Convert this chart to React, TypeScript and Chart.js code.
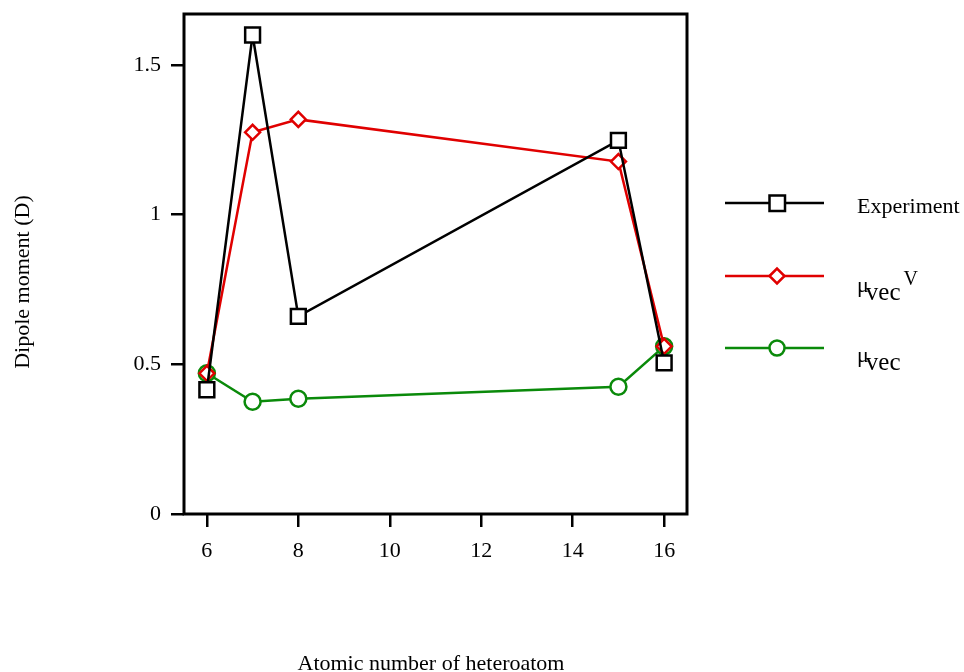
import React, { useEffect, useRef } from "react";
import { Chart, registerables } from "chart.js";

Chart.register(...registerables);

const atomicNumbers = [6, 7, 8, 15, 16];
const experiment = [0.415, 1.6, 0.66, 1.248, 0.505];
const muVecV = [0.47, 1.275, 1.318, 1.177, 0.56];
const muVec = [0.47, 0.375, 0.385, 0.425, 0.56];

const xTicks = [6, 8, 10, 12, 14, 16];
const yTicks = [0, 0.5, 1, 1.5];
const yTickLabels = ["0", "0.5", "1", "1.5"];

const FONT = '"Liberation Serif", "Times New Roman", serif';
const RED = "#e00000";
const GREEN = "#0a8a0a";

const boxPlugin = {
  id: "box",
  afterDraw(chart: any) {
    const { ctx, chartArea } = chart;
    ctx.save();
    ctx.strokeStyle = "#000";
    ctx.lineWidth = 3;
    ctx.strokeRect(chartArea.left, chartArea.top, chartArea.right - chartArea.left, chartArea.bottom - chartArea.top);
    ctx.restore();
  },
};

export default function App() {
  const ref = useRef<HTMLCanvasElement>(null);

  useEffect(() => {
    if (!ref.current) return;
    const pts = (ys: number[]) => atomicNumbers.map((x, i) => ({ x, y: ys[i] }));
    const chart = new Chart(ref.current, {
      type: "line",
      data: {
        datasets: [
          {
            label: "Experiment",
            data: pts(experiment),
            borderColor: "#000",
            borderWidth: 2.5,
            pointStyle: "rect",
            pointRadius: 10.5,
            pointBorderWidth: 2.5,
            pointBackgroundColor: "#fff",
            pointBorderColor: "#000",
          },
          {
            label: "μvecV",
            data: pts(muVecV),
            borderColor: RED,
            borderWidth: 2.5,
            pointStyle: "rectRot",
            pointRadius: 7.5,
            pointBorderWidth: 2.5,
            pointBackgroundColor: "#fff",
            pointBorderColor: RED,
          },
          {
            label: "μvec",
            data: pts(muVec),
            borderColor: GREEN,
            borderWidth: 2.5,
            pointStyle: "circle",
            pointRadius: 8,
            pointBorderWidth: 2.5,
            pointBackgroundColor: "#fff",
            pointBorderColor: GREEN,
          },
        ],
      },
      options: {
        animation: false,
        responsive: false,
        maintainAspectRatio: false,
        layout: { padding: { left: 0, top: 14, right: 277, bottom: 98 } },
        plugins: { legend: { display: false }, tooltip: { enabled: false } },
        scales: {
          x: {
            type: "linear",
            min: 5.5,
            max: 16.5,
            afterBuildTicks: (s: any) => {
              s.ticks = xTicks.map((v) => ({ value: v }));
            },
            afterFit: (s: any) => {
              s.height = 60;
              s.paddingLeft = 0;
              s.paddingRight = 0;
            },
            border: { display: false },
            grid: { drawOnChartArea: false, drawTicks: true, tickLength: 13, color: "#000", lineWidth: 2.5 },
            ticks: { color: "#000", font: { family: FONT, size: 22 }, padding: 11, maxRotation: 0 },
          },
          y: {
            type: "linear",
            min: 0,
            max: 1.67,
            afterBuildTicks: (s: any) => {
              s.ticks = yTicks.map((v) => ({ value: v }));
            },
            afterFit: (s: any) => {
              s.width = 184;
              s.paddingTop = 0;
              s.paddingBottom = 0;
            },
            border: { display: false },
            grid: { drawOnChartArea: false, drawTicks: true, tickLength: 13, color: "#000", lineWidth: 2.5 },
            ticks: {
              color: "#000",
              font: { family: FONT, size: 22 },
              padding: 10,
              callback: (v: any) => {
                const i = yTicks.indexOf(Number(v));
                return i >= 0 ? yTickLabels[i] : "";
              },
            },
          },
        },
      },
      plugins: [boxPlugin],
    });
    return () => chart.destroy();
  }, []);

  return (
    <div style={{ position: "fixed", left: 0, top: 0, width: 964, height: 672, background: "#fff" }}>
      <canvas ref={ref} width={964} height={672} style={{ position: "absolute", left: 0, top: 0 }} />
      <svg width={964} height={672} style={{ position: "absolute", left: 0, top: 0 }} fontFamily={FONT}>
        <text x={28.5} y={282} fontSize={22} textAnchor="middle" transform="rotate(-90 28.5 282)">
          Dipole moment (D)
        </text>
        <text x={431} y={670} fontSize={22} textAnchor="middle">
          Atomic number of heteroatom
        </text>
        <line x1={725} x2={824} y1={203} y2={203} stroke="#000" strokeWidth={2.5} />
        <rect x={769.5} y={195.5} width={15.5} height={15.5} fill="#fff" stroke="#000" strokeWidth={2.5} />
        <text x={857} y={213} fontSize={22}>Experiment</text>
        <line x1={725} x2={824} y1={276} y2={276} stroke={RED} strokeWidth={2.5} />
        <polygon points="769.5,276 777,268.5 784.5,276 777,283.5" fill="#fff" stroke={RED} strokeWidth={2.5} />
        <text x={857} y={292} fontSize={22}>
          μ<tspan fontSize={25} dy={8} dx={-3}>vec</tspan>
          <tspan fontSize={20} dy={-15} dx={3}>V</tspan>
        </text>
        <line x1={725} x2={824} y1={348} y2={348} stroke={GREEN} strokeWidth={2.5} />
        <circle cx={777} cy={348} r={7.5} fill="#fff" stroke={GREEN} strokeWidth={2.5} />
        <text x={857} y={362} fontSize={22}>
          μ<tspan fontSize={25} dy={8} dx={-3}>vec</tspan>
        </text>
      </svg>
    </div>
  );
}
